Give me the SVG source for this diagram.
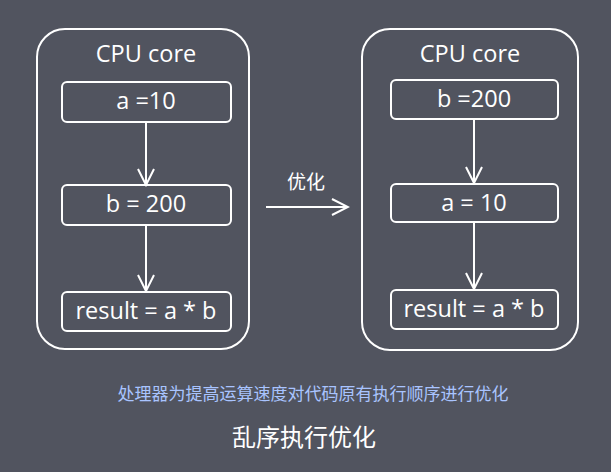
<svg xmlns="http://www.w3.org/2000/svg" width="611" height="472" viewBox="0 0 611 472">
<style>
.outer{fill:none;stroke:#ffffff;stroke-width:2}
.box{fill:none;stroke:#ffffff;stroke-width:2}
.t{font-family:"Open Sans","Noto Sans",sans-serif;fill:#ffffff;text-anchor:middle;font-size:23.5px}
.cjk{font-family:"Noto Sans CJK SC",sans-serif;text-anchor:middle}
.line{stroke:#ffffff;stroke-width:2;fill:none}
</style>
<defs>
<marker id="arr" viewBox="0 0 20 20" refX="18" refY="10" markerWidth="20" markerHeight="20" markerUnits="userSpaceOnUse" orient="auto">
<path d="M2,2 L18,10 L2,18" fill="none" stroke="#ffffff" stroke-width="2"/>
</marker>
</defs>
<rect width="611" height="472" fill="#51545f"/>
<g id="left-core">
<rect class="outer" x="37" y="29" width="212" height="320" rx="28"/>
<text class="t" x="146" y="62">CPU core</text>
</g>
<g id="left-a">
<rect class="box" x="62" y="82" width="169" height="40" rx="5"/>
<text class="t" x="146" y="109">a =10</text>
</g>
<g id="left-b">
<rect class="box" x="62" y="185" width="169" height="40" rx="5"/>
<text class="t" x="146" y="212">b = 200</text>
</g>
<g id="left-result">
<rect class="box" x="62" y="292" width="169" height="39" rx="5"/>
<text class="t" x="146" y="319">result = a * b</text>
</g>
<g id="right-core">
<rect class="outer" x="362" y="29" width="216" height="321" rx="28"/>
<text class="t" x="470" y="62">CPU core</text>
</g>
<g id="right-b">
<rect class="box" x="391" y="80" width="167" height="39" rx="5"/>
<text class="t" x="474" y="107">b =200</text>
</g>
<g id="right-a">
<rect class="box" x="391" y="184" width="167" height="38" rx="5"/>
<text class="t" x="474" y="211">a = 10</text>
</g>
<g id="right-result">
<rect class="box" x="391" y="290" width="167" height="39" rx="5"/>
<text class="t" x="474" y="317">result = a * b</text>
</g>
<g id="connectors">
<line class="line" x1="146" y1="122" x2="146" y2="185" marker-end="url(#arr)"/>
<line class="line" x1="146" y1="225" x2="146" y2="291" marker-end="url(#arr)"/>
<line class="line" x1="474" y1="119" x2="474" y2="183" marker-end="url(#arr)"/>
<line class="line" x1="474" y1="222" x2="474" y2="289" marker-end="url(#arr)"/>
<line class="line" x1="266" y1="207" x2="348" y2="207" marker-end="url(#arr)"/>
<text class="cjk" x="306" y="189" font-size="19" fill="#ffffff">优化</text>
</g>
<text class="cjk" x="313" y="400" font-size="17" fill="#a9c4ff">处理器为提高运算速度对代码原有执行顺序进行优化</text>
<text class="cjk" x="304" y="446" font-size="24" fill="#ffffff">乱序执行优化</text>
</svg>
